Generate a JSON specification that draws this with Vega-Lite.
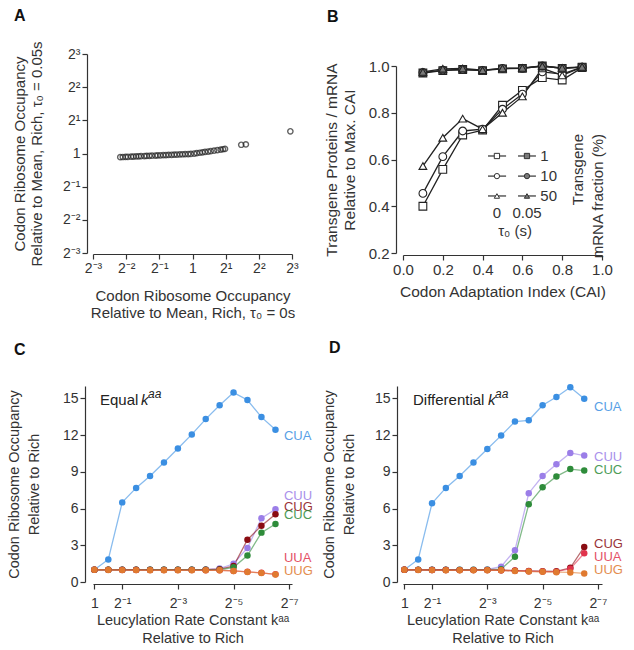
{
"$schema": "https://vega.github.io/schema/vega-lite/v6.json",
"padding": {"left": 6, "top": 7, "right": 5, "bottom": 3},
"background": "white",
"config": {
  "font": "Liberation Sans",
  "view": {"stroke": null},
  "axis": {"grid": false, "domainColor": "#333", "tickColor": "#333", "labelColor": "#333", "titleColor": "#333", "titleFontWeight": "normal", "labelFont": "Liberation Sans", "titleFont": "Liberation Sans", "tickSize": 5, "domainWidth": 1.2, "tickWidth": 1.2},
  "title": {"font": "Liberation Sans", "fontWeight": "bold", "fontSize": 16, "color": "#111", "anchor": "start", "frame": "group"}
},
"columns": 2,
"spacing": {"row": 133, "column": 111},
"bounds": "flush",
"concat": [
{
  "width": 199, "height": 199,
  "title": {"text": "A", "dx": -79, "dy": -13},
  "data": {"values": [
    {"x":0.221,"y":0.927},{"x":0.233,"y":0.929},{"x":0.247,"y":0.931},{"x":0.259,"y":0.933},{"x":0.277,"y":0.936},{"x":0.291,"y":0.938},{"x":0.308,"y":0.941},{"x":0.325,"y":0.943},{"x":0.341,"y":0.945},{"x":0.366,"y":0.948},{"x":0.384,"y":0.951},{"x":0.406,"y":0.953},{"x":0.429,"y":0.955},{"x":0.46,"y":0.958},{"x":0.483,"y":0.961},{"x":0.511,"y":0.963},{"x":0.543,"y":0.966},{"x":0.574,"y":0.968},{"x":0.607,"y":0.971},{"x":0.646,"y":0.973},{"x":0.683,"y":0.976},{"x":0.722,"y":0.978},{"x":0.768,"y":0.981},{"x":0.812,"y":0.984},{"x":0.859,"y":0.986},{"x":0.914,"y":0.989},{"x":0.966,"y":0.992},{"x":1.035,"y":0.999},{"x":1.094,"y":1.007},{"x":1.165,"y":1.016},{"x":1.231,"y":1.025},{"x":1.301,"y":1.033},{"x":1.385,"y":1.042},{"x":1.464,"y":1.051},{"x":1.569,"y":1.062},{"x":1.682,"y":1.072},{"x":1.803,"y":1.085},{"x":1.892,"y":1.093},{"x":1.972,"y":1.1},
    {"x":2.77,"y":1.2},{"x":3.05,"y":1.21},{"x":7.73,"y":1.59}
  ]},
  "mark": {"type": "point", "filled": false, "stroke": "#222", "strokeWidth": 1.4, "size": 28},
  "encoding": {
    "x": {"field": "x", "type": "quantitative", "scale": {"type": "log", "base": 2, "domain": [0.125, 8], "nice": false},
      "axis": {"values": [0.125,0.25,0.5,1,2,4,8], "labelExpr": "datum.value > 6 ? '2³' : datum.value > 3 ? '2²' : datum.value > 1.5 ? '2¹' : datum.value > 0.75 ? '1' : datum.value > 0.375 ? '2⁻¹' : datum.value > 0.18 ? '2⁻²' : '2⁻³'", "offset": 1, "labelFontSize": 14, "titleFontSize": 15, "titlePadding": 13, "labelFlush": false,
        "title": ["Codon Ribosome Occupancy", "Relative to Mean, Rich, τ₀ = 0s"]}},
    "y": {"field": "y", "type": "quantitative", "scale": {"type": "log", "base": 2, "domain": [0.125, 8], "nice": false},
      "axis": {"values": [0.125,0.25,0.5,1,2,4,8], "labelExpr": "datum.value > 6 ? '2³' : datum.value > 3 ? '2²' : datum.value > 1.5 ? '2¹' : datum.value > 0.75 ? '1' : datum.value > 0.375 ? '2⁻¹' : datum.value > 0.18 ? '2⁻²' : '2⁻³'", "offset": 6, "labelFontSize": 14, "titleFontSize": 15, "titlePadding": 18,
        "title": ["Codon Ribosome Occupancy", "Relative to Mean, Rich, τ₀ = 0.05s"]}}
  }
},
{
  "width": 199, "height": 199,
  "title": {"text": "B", "dx": -76, "dy": -25},
  "encoding": {
    "x": {"field": "x", "type": "quantitative", "scale": {"domain": [0, 1], "nice": false},
      "axis": {"values": [0,0.2,0.4,0.6,0.8,1], "format": ".1f", "offset": 2, "labelFontSize": 15, "titleFontSize": 15.5, "titlePadding": 7, "labelFlush": false, "title": "Codon Adaptation Index (CAI)"}},
    "y": {"field": "y", "type": "quantitative", "scale": {"domain": [0.2, 1], "nice": false, "range": [199, 12]},
      "axis": {"values": [0.2,0.4,0.6,0.8,1], "format": ".1f", "offset": 7, "labelFontSize": 15, "titleFontSize": 15.5, "titlePadding": 11, "title": ["Transgene Proteins / mRNA", "Relative to Max. CAI"]}}
  },
  "layer": [
    {
      "data": {"values": [
        {"x":0.1,"y":0.40,"frac":"1","tau":"0"},{"x":0.2,"y":0.558,"frac":"1","tau":"0"},{"x":0.3,"y":0.705,"frac":"1","tau":"0"},{"x":0.4,"y":0.726,"frac":"1","tau":"0"},{"x":0.5,"y":0.832,"frac":"1","tau":"0"},{"x":0.6,"y":0.896,"frac":"1","tau":"0"},{"x":0.7,"y":0.95,"frac":"1","tau":"0"},{"x":0.8,"y":0.94,"frac":"1","tau":"0"},{"x":0.9,"y":0.993,"frac":"1","tau":"0"},
        {"x":0.1,"y":0.455,"frac":"10","tau":"0"},{"x":0.2,"y":0.612,"frac":"10","tau":"0"},{"x":0.3,"y":0.722,"frac":"10","tau":"0"},{"x":0.4,"y":0.73,"frac":"10","tau":"0"},{"x":0.5,"y":0.815,"frac":"10","tau":"0"},{"x":0.6,"y":0.88,"frac":"10","tau":"0"},{"x":0.7,"y":0.975,"frac":"10","tau":"0"},{"x":0.8,"y":0.965,"frac":"10","tau":"0"},{"x":0.9,"y":0.995,"frac":"10","tau":"0"},
        {"x":0.1,"y":0.572,"frac":"50","tau":"0"},{"x":0.2,"y":0.693,"frac":"50","tau":"0"},{"x":0.3,"y":0.775,"frac":"50","tau":"0"},{"x":0.4,"y":0.73,"frac":"50","tau":"0"},{"x":0.5,"y":0.80,"frac":"50","tau":"0"},{"x":0.6,"y":0.87,"frac":"50","tau":"0"},{"x":0.7,"y":0.99,"frac":"50","tau":"0"},{"x":0.8,"y":0.96,"frac":"50","tau":"0"},{"x":0.9,"y":0.995,"frac":"50","tau":"0"},
        {"x":0.1,"y":0.97,"frac":"1","tau":"0.05"},{"x":0.2,"y":0.98,"frac":"1","tau":"0.05"},{"x":0.3,"y":0.985,"frac":"1","tau":"0.05"},{"x":0.4,"y":0.98,"frac":"1","tau":"0.05"},{"x":0.5,"y":0.988,"frac":"1","tau":"0.05"},{"x":0.6,"y":0.99,"frac":"1","tau":"0.05"},{"x":0.7,"y":1.0,"frac":"1","tau":"0.05"},{"x":0.8,"y":0.99,"frac":"1","tau":"0.05"},{"x":0.9,"y":0.995,"frac":"1","tau":"0.05"},
        {"x":0.1,"y":0.972,"frac":"10","tau":"0.05"},{"x":0.2,"y":0.982,"frac":"10","tau":"0.05"},{"x":0.3,"y":0.985,"frac":"10","tau":"0.05"},{"x":0.4,"y":0.981,"frac":"10","tau":"0.05"},{"x":0.5,"y":0.99,"frac":"10","tau":"0.05"},{"x":0.6,"y":0.99,"frac":"10","tau":"0.05"},{"x":0.7,"y":1.0,"frac":"10","tau":"0.05"},{"x":0.8,"y":0.99,"frac":"10","tau":"0.05"},{"x":0.9,"y":0.995,"frac":"10","tau":"0.05"},
        {"x":0.1,"y":0.975,"frac":"50","tau":"0.05"},{"x":0.2,"y":0.988,"frac":"50","tau":"0.05"},{"x":0.3,"y":0.99,"frac":"50","tau":"0.05"},{"x":0.4,"y":0.982,"frac":"50","tau":"0.05"},{"x":0.5,"y":0.99,"frac":"50","tau":"0.05"},{"x":0.6,"y":0.992,"frac":"50","tau":"0.05"},{"x":0.7,"y":1.0,"frac":"50","tau":"0.05"},{"x":0.8,"y":0.992,"frac":"50","tau":"0.05"},{"x":0.9,"y":0.996,"frac":"50","tau":"0.05"}
      ]},
      "layer": [
        {"mark": {"type": "line", "color": "#222", "strokeWidth": 1.3}, "encoding": {"detail": [{"field": "frac"}, {"field": "tau"}]}},
        {"mark": {"type": "point", "opacity": 1, "stroke": "#222", "strokeWidth": 1.1, "size": 60},
         "encoding": {
           "shape": {"field": "frac", "type": "nominal", "scale": {"domain": ["1","10","50"], "range": ["square","circle","triangle-up"]}, "legend": null},
           "fill": {"field": "tau", "type": "nominal", "scale": {"domain": ["0","0.05"], "range": ["white","#7a7a7a"]}, "legend": null}
         }}
      ]
    },
    {
      "data": {"values": [
        {"x":0.427,"x2":0.518,"y":0.615},{"x":0.578,"x2":0.668,"y":0.615},
        {"x":0.427,"x2":0.518,"y":0.529},{"x":0.578,"x2":0.668,"y":0.529},
        {"x":0.427,"x2":0.518,"y":0.444},{"x":0.578,"x2":0.668,"y":0.444}
      ]},
      "mark": {"type": "rule", "color": "#333", "strokeWidth": 1.2},
      "encoding": {"x2": {"field": "x2"}}
    },
    {
      "data": {"values": [
        {"x":0.472,"y":0.615,"frac":"1","tau":"0"},{"x":0.623,"y":0.615,"frac":"1","tau":"0.05"},
        {"x":0.472,"y":0.529,"frac":"10","tau":"0"},{"x":0.623,"y":0.529,"frac":"10","tau":"0.05"},
        {"x":0.472,"y":0.444,"frac":"50","tau":"0"},{"x":0.623,"y":0.444,"frac":"50","tau":"0.05"}
      ]},
      "mark": {"type": "point", "opacity": 1, "stroke": "#333", "strokeWidth": 1, "size": 28},
      "encoding": {
        "shape": {"field": "frac", "type": "nominal", "legend": null},
        "fill": {"field": "tau", "type": "nominal", "legend": null}
      }
    },
    {
      "data": {"values": [
        {"x":0.69,"y":0.615,"t":"1"},{"x":0.69,"y":0.529,"t":"10"},{"x":0.69,"y":0.444,"t":"50"}
      ]},
      "mark": {"type": "text", "align": "left", "baseline": "middle", "fontSize": 15, "color": "#333"},
      "encoding": {"text": {"field": "t"}}
    },
    {
      "data": {"values": [
        {"x":0.472,"y":0.371,"t":"0"},{"x":0.623,"y":0.371,"t":"0.05"},{"x":0.563,"y":0.294,"t":"τ₀ (s)"}
      ]},
      "mark": {"type": "text", "align": "center", "baseline": "middle", "fontSize": 15, "color": "#333"},
      "encoding": {"text": {"field": "t"}}
    },
    {
      "data": {"values": [
        {"x":0.88,"y":0.709,"t":"Transgene"},{"x":0.98,"y":0.709,"t":"mRNA fraction (%)"}
      ]},
      "mark": {"type": "text", "align": "right", "baseline": "middle", "angle": 270, "fontSize": 15, "color": "#333"},
      "encoding": {"text": {"field": "t"}}
    }
  ]
},
{
  "width": 199, "height": 198,
  "title": {"text": "C", "dx": -79, "dy": -24},
  "encoding": {
    "x": {"field": "x", "type": "quantitative", "scale": {"type": "log", "base": 2, "domain": [0.007289, 1.0353], "nice": false, "reverse": true},
      "axis": {"values": [1,0.5,0.125,0.03125,0.0078125], "labelExpr": "datum.value > 0.9 ? '1' : datum.value > 0.3 ? '2⁻¹' : datum.value > 0.1 ? '2⁻³' : datum.value > 0.02 ? '2⁻⁵' : '2⁻⁷'", "labelFontSize": 14, "labelPadding": 7, "titleFontSize": 14.5, "titlePadding": 3, "titleLineHeight": 18, "labelFlush": false,
        "title": ["Leucylation Rate Constant kᵃᵃ", "Relative to Rich"]}},
    "y": {"field": "y", "type": "quantitative", "scale": {"domain": [0, 16], "nice": false, "range": [196, 0]},
      "axis": {"values": [0,3,6,9,12,15], "offset": 8, "labelFontSize": 14, "titleFontSize": 14.5, "titlePadding": 21, "titleLineHeight": 20,
        "title": ["Codon Ribosome Occupancy", "Relative to Rich"]}},
    "color": {"field": "c", "type": "nominal", "scale": {"domain": ["CUA","CUU","CUG","CUC","UUA","UUG"], "range": ["#3b8fe2","#9b7ee8","#8a0c12","#2e8c3a","#e0334c","#e07a30"]}, "legend": null}
  },
  "layer": [
    {
      "data": {"values": [
        {"c":"CUA","x":1,"y":1.0},{"c":"CUA","x":0.7071,"y":1.84},{"c":"CUA","x":0.5,"y":6.5},{"c":"CUA","x":0.3536,"y":7.68},{"c":"CUA","x":0.25,"y":8.65},{"c":"CUA","x":0.1768,"y":9.76},{"c":"CUA","x":0.125,"y":10.9},{"c":"CUA","x":0.0884,"y":12.05},{"c":"CUA","x":0.0625,"y":13.3},{"c":"CUA","x":0.0442,"y":14.43},{"c":"CUA","x":0.03125,"y":15.46},{"c":"CUA","x":0.0221,"y":14.86},{"c":"CUA","x":0.0156,"y":13.46},{"c":"CUA","x":0.011,"y":12.43},
        {"c":"CUU","x":1,"y":1.0},{"c":"CUU","x":0.7071,"y":1.0},{"c":"CUU","x":0.5,"y":1.0},{"c":"CUU","x":0.3536,"y":1.0},{"c":"CUU","x":0.25,"y":1.0},{"c":"CUU","x":0.1768,"y":1.0},{"c":"CUU","x":0.125,"y":1.0},{"c":"CUU","x":0.0884,"y":1.0},{"c":"CUU","x":0.0625,"y":1.02},{"c":"CUU","x":0.0442,"y":1.1},{"c":"CUU","x":0.03125,"y":1.49},{"c":"CUU","x":0.0221,"y":2.78},{"c":"CUU","x":0.0156,"y":5.2},{"c":"CUU","x":0.011,"y":5.94},
        {"c":"CUG","x":1,"y":1.0},{"c":"CUG","x":0.7071,"y":1.0},{"c":"CUG","x":0.5,"y":1.0},{"c":"CUG","x":0.3536,"y":1.0},{"c":"CUG","x":0.25,"y":1.0},{"c":"CUG","x":0.1768,"y":1.0},{"c":"CUG","x":0.125,"y":1.0},{"c":"CUG","x":0.0884,"y":1.0},{"c":"CUG","x":0.0625,"y":1.0},{"c":"CUG","x":0.0442,"y":1.05},{"c":"CUG","x":0.03125,"y":1.3},{"c":"CUG","x":0.0221,"y":3.45},{"c":"CUG","x":0.0156,"y":4.6},{"c":"CUG","x":0.011,"y":5.54},
        {"c":"CUC","x":1,"y":1.0},{"c":"CUC","x":0.7071,"y":1.0},{"c":"CUC","x":0.5,"y":1.0},{"c":"CUC","x":0.3536,"y":1.0},{"c":"CUC","x":0.25,"y":1.0},{"c":"CUC","x":0.1768,"y":1.0},{"c":"CUC","x":0.125,"y":1.0},{"c":"CUC","x":0.0884,"y":1.0},{"c":"CUC","x":0.0625,"y":1.0},{"c":"CUC","x":0.0442,"y":1.0},{"c":"CUC","x":0.03125,"y":1.2},{"c":"CUC","x":0.0221,"y":2.16},{"c":"CUC","x":0.0156,"y":4.03},{"c":"CUC","x":0.011,"y":4.73},
        {"c":"UUA","x":1,"y":1.0},{"c":"UUA","x":0.7071,"y":0.99},{"c":"UUA","x":0.5,"y":0.98},{"c":"UUA","x":0.3536,"y":0.98},{"c":"UUA","x":0.25,"y":0.97},{"c":"UUA","x":0.1768,"y":0.97},{"c":"UUA","x":0.125,"y":0.97},{"c":"UUA","x":0.0884,"y":0.97},{"c":"UUA","x":0.0625,"y":0.96},{"c":"UUA","x":0.0442,"y":0.96},{"c":"UUA","x":0.03125,"y":0.9},{"c":"UUA","x":0.0221,"y":0.83},{"c":"UUA","x":0.0156,"y":0.75},{"c":"UUA","x":0.011,"y":0.63},
        {"c":"UUG","x":1,"y":1.0},{"c":"UUG","x":0.7071,"y":0.98},{"c":"UUG","x":0.5,"y":0.97},{"c":"UUG","x":0.3536,"y":0.97},{"c":"UUG","x":0.25,"y":0.96},{"c":"UUG","x":0.1768,"y":0.96},{"c":"UUG","x":0.125,"y":0.96},{"c":"UUG","x":0.0884,"y":0.96},{"c":"UUG","x":0.0625,"y":0.95},{"c":"UUG","x":0.0442,"y":0.95},{"c":"UUG","x":0.03125,"y":0.9},{"c":"UUG","x":0.0221,"y":0.82},{"c":"UUG","x":0.0156,"y":0.74},{"c":"UUG","x":0.011,"y":0.62}
      ]},
      "layer": [
        {"mark": {"type": "line", "strokeWidth": 1.3, "opacity": 0.6}, "encoding": {"detail": {"field": "c"}}},
        {"mark": {"type": "circle", "size": 42, "opacity": 1}}
      ]
    },
    {
      "data": {"values": [
        {"c":"CUA","x":0.00891,"y":11.92},{"c":"CUU","x":0.00891,"y":7.06},{"c":"CUG","x":0.00891,"y":6.16},{"c":"CUC","x":0.00891,"y":5.43},{"c":"UUA","x":0.00891,"y":1.95},{"c":"UUG","x":0.00891,"y":0.89}
      ]},
      "mark": {"type": "text", "align": "left", "baseline": "middle", "fontSize": 13, "opacity": 0.85},
      "encoding": {"text": {"field": "c"}}
    },
    {
      "data": {"values": [{"x":0.87,"y":14.85,"t":"Equal"}]},
      "layer": [
        {"mark": {"type": "text", "align": "left", "baseline": "middle", "fontSize": 15, "color": "#222"}, "encoding": {"text": {"field": "t"}, "color": {"value": "#222"}}},
        {"mark": {"type": "text", "align": "left", "baseline": "middle", "fontSize": 15, "fontStyle": "italic", "dx": 41, "color": "#222"}, "encoding": {"text": {"value": "k"}, "color": {"value": "#222"}}},
        {"mark": {"type": "text", "align": "left", "baseline": "middle", "fontSize": 12, "fontStyle": "italic", "dx": 48, "dy": -6, "color": "#222"}, "encoding": {"text": {"value": "aa"}, "color": {"value": "#222"}}}
      ]
    }
  ]
},
{
  "width": 199, "height": 198,
  "title": {"text": "D", "dx": -74, "dy": -24},
  "encoding": {
    "x": {"field": "x", "type": "quantitative", "scale": {"type": "log", "base": 2, "domain": [0.007046, 1.0353], "nice": false, "reverse": true},
      "axis": {"values": [1,0.5,0.125,0.03125,0.0078125], "labelExpr": "datum.value > 0.9 ? '1' : datum.value > 0.3 ? '2⁻¹' : datum.value > 0.1 ? '2⁻³' : datum.value > 0.02 ? '2⁻⁵' : '2⁻⁷'", "labelFontSize": 14, "labelPadding": 7, "titleFontSize": 14.5, "titlePadding": 3, "titleLineHeight": 18, "labelFlush": false,
        "title": ["Leucylation Rate Constant kᵃᵃ", "Relative to Rich"]}},
    "y": {"field": "y", "type": "quantitative", "scale": {"domain": [0, 16], "nice": false, "range": [196, 0]},
      "axis": {"values": [0,3,6,9,12,15], "offset": 6, "labelFontSize": 14, "titleFontSize": 14.5, "titlePadding": 18, "titleLineHeight": 20,
        "title": ["Codon Ribosome Occupancy", "Relative to Rich"]}},
    "color": {"field": "c", "type": "nominal", "scale": {"domain": ["CUA","CUU","CUG","CUC","UUA","UUG"], "range": ["#3b8fe2","#9b7ee8","#8a0c12","#2e8c3a","#e0334c","#e07a30"]}, "legend": null}
  },
  "layer": [
    {
      "data": {"values": [
        {"c":"CUA","x":1,"y":1.0},{"c":"CUA","x":0.7071,"y":1.84},{"c":"CUA","x":0.5,"y":6.43},{"c":"CUA","x":0.3536,"y":7.68},{"c":"CUA","x":0.25,"y":8.65},{"c":"CUA","x":0.1768,"y":9.76},{"c":"CUA","x":0.125,"y":10.86},{"c":"CUA","x":0.0884,"y":11.95},{"c":"CUA","x":0.0625,"y":13.1},{"c":"CUA","x":0.0442,"y":13.2},{"c":"CUA","x":0.03125,"y":14.43},{"c":"CUA","x":0.0221,"y":15.1},{"c":"CUA","x":0.0156,"y":15.9},{"c":"CUA","x":0.011,"y":14.95},
        {"c":"CUU","x":1,"y":1.0},{"c":"CUU","x":0.7071,"y":1.0},{"c":"CUU","x":0.5,"y":1.0},{"c":"CUU","x":0.3536,"y":1.0},{"c":"CUU","x":0.25,"y":1.0},{"c":"CUU","x":0.1768,"y":1.0},{"c":"CUU","x":0.125,"y":1.02},{"c":"CUU","x":0.0884,"y":1.25},{"c":"CUU","x":0.0625,"y":2.6},{"c":"CUU","x":0.0442,"y":7.25},{"c":"CUU","x":0.03125,"y":8.65},{"c":"CUU","x":0.0221,"y":9.62},{"c":"CUU","x":0.0156,"y":10.54},{"c":"CUU","x":0.011,"y":10.32},
        {"c":"CUC","x":1,"y":1.0},{"c":"CUC","x":0.7071,"y":1.0},{"c":"CUC","x":0.5,"y":1.0},{"c":"CUC","x":0.3536,"y":1.0},{"c":"CUC","x":0.25,"y":1.0},{"c":"CUC","x":0.1768,"y":1.0},{"c":"CUC","x":0.125,"y":1.0},{"c":"CUC","x":0.0884,"y":1.05},{"c":"CUC","x":0.0625,"y":2.07},{"c":"CUC","x":0.0442,"y":6.35},{"c":"CUC","x":0.03125,"y":7.73},{"c":"CUC","x":0.0221,"y":8.62},{"c":"CUC","x":0.0156,"y":9.22},{"c":"CUC","x":0.011,"y":9.1},
        {"c":"CUG","x":1,"y":1.0},{"c":"CUG","x":0.7071,"y":0.99},{"c":"CUG","x":0.5,"y":0.98},{"c":"CUG","x":0.3536,"y":0.98},{"c":"CUG","x":0.25,"y":0.97},{"c":"CUG","x":0.1768,"y":0.97},{"c":"CUG","x":0.125,"y":0.97},{"c":"CUG","x":0.0884,"y":0.96},{"c":"CUG","x":0.0625,"y":0.93},{"c":"CUG","x":0.0442,"y":0.9},{"c":"CUG","x":0.03125,"y":0.88},{"c":"CUG","x":0.0221,"y":0.87},{"c":"CUG","x":0.0156,"y":1.16},{"c":"CUG","x":0.011,"y":2.86},
        {"c":"UUA","x":1,"y":1.0},{"c":"UUA","x":0.7071,"y":0.99},{"c":"UUA","x":0.5,"y":0.98},{"c":"UUA","x":0.3536,"y":0.98},{"c":"UUA","x":0.25,"y":0.97},{"c":"UUA","x":0.1768,"y":0.97},{"c":"UUA","x":0.125,"y":0.97},{"c":"UUA","x":0.0884,"y":0.96},{"c":"UUA","x":0.0625,"y":0.92},{"c":"UUA","x":0.0442,"y":0.88},{"c":"UUA","x":0.03125,"y":0.85},{"c":"UUA","x":0.0221,"y":0.84},{"c":"UUA","x":0.0156,"y":1.08},{"c":"UUA","x":0.011,"y":2.35},
        {"c":"UUG","x":1,"y":1.0},{"c":"UUG","x":0.7071,"y":0.98},{"c":"UUG","x":0.5,"y":0.97},{"c":"UUG","x":0.3536,"y":0.96},{"c":"UUG","x":0.25,"y":0.96},{"c":"UUG","x":0.1768,"y":0.96},{"c":"UUG","x":0.125,"y":0.96},{"c":"UUG","x":0.0884,"y":0.95},{"c":"UUG","x":0.0625,"y":0.9},{"c":"UUG","x":0.0442,"y":0.85},{"c":"UUG","x":0.03125,"y":0.83},{"c":"UUG","x":0.0221,"y":0.8},{"c":"UUG","x":0.0156,"y":0.78},{"c":"UUG","x":0.011,"y":0.7}
      ]},
      "layer": [
        {"mark": {"type": "line", "strokeWidth": 1.3, "opacity": 0.6}, "encoding": {"detail": {"field": "c"}}},
        {"mark": {"type": "circle", "size": 42, "opacity": 1}}
      ]
    },
    {
      "data": {"values": [
        {"c":"CUA","x":0.0086,"y":14.27},{"c":"CUU","x":0.0086,"y":10.2},{"c":"CUC","x":0.0086,"y":9.16},{"c":"CUG","x":0.0086,"y":3.08},{"c":"UUA","x":0.0086,"y":2.03},{"c":"UUG","x":0.0086,"y":0.97}
      ]},
      "mark": {"type": "text", "align": "left", "baseline": "middle", "fontSize": 13, "opacity": 0.85},
      "encoding": {"text": {"field": "c"}}
    },
    {
      "data": {"values": [{"x":0.806,"y":14.85,"t":"Differential"}]},
      "layer": [
        {"mark": {"type": "text", "align": "left", "baseline": "middle", "fontSize": 15, "color": "#222"}, "encoding": {"text": {"field": "t"}, "color": {"value": "#222"}}},
        {"mark": {"type": "text", "align": "left", "baseline": "middle", "fontSize": 15, "fontStyle": "italic", "dx": 75, "color": "#222"}, "encoding": {"text": {"value": "k"}, "color": {"value": "#222"}}},
        {"mark": {"type": "text", "align": "left", "baseline": "middle", "fontSize": 12, "fontStyle": "italic", "dx": 82, "dy": -6, "color": "#222"}, "encoding": {"text": {"value": "aa"}, "color": {"value": "#222"}}}
      ]
    }
  ]
}
]
}
